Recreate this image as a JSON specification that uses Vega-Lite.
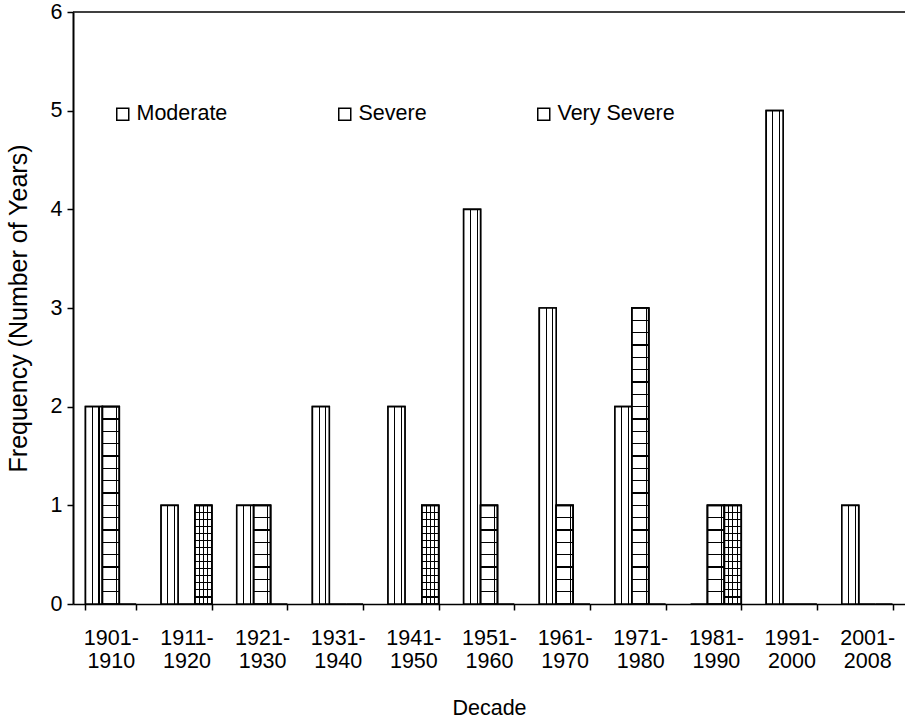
{
  "$schema": "https://vega.github.io/schema/vega-lite/v6.json",
  "width": 832,
  "height": 592,
  "autosize": "none",
  "padding": {"left": 73, "top": 12, "right": 0, "bottom": 115},
  "background": "white",
  "config": {"font": "Liberation Sans", "view": {"stroke": null}},
  "data": {"values": [
    {"decade": "1901-1910", "severity": "Moderate", "value": 2},
    {"decade": "1901-1910", "severity": "Severe", "value": 2},
    {"decade": "1901-1910", "severity": "Very Severe", "value": 0},
    {"decade": "1911-1920", "severity": "Moderate", "value": 1},
    {"decade": "1911-1920", "severity": "Severe", "value": 0},
    {"decade": "1911-1920", "severity": "Very Severe", "value": 1},
    {"decade": "1921-1930", "severity": "Moderate", "value": 1},
    {"decade": "1921-1930", "severity": "Severe", "value": 1},
    {"decade": "1921-1930", "severity": "Very Severe", "value": 0},
    {"decade": "1931-1940", "severity": "Moderate", "value": 2},
    {"decade": "1931-1940", "severity": "Severe", "value": 0},
    {"decade": "1931-1940", "severity": "Very Severe", "value": 0},
    {"decade": "1941-1950", "severity": "Moderate", "value": 2},
    {"decade": "1941-1950", "severity": "Severe", "value": 0},
    {"decade": "1941-1950", "severity": "Very Severe", "value": 1},
    {"decade": "1951-1960", "severity": "Moderate", "value": 4},
    {"decade": "1951-1960", "severity": "Severe", "value": 1},
    {"decade": "1951-1960", "severity": "Very Severe", "value": 0},
    {"decade": "1961-1970", "severity": "Moderate", "value": 3},
    {"decade": "1961-1970", "severity": "Severe", "value": 1},
    {"decade": "1961-1970", "severity": "Very Severe", "value": 0},
    {"decade": "1971-1980", "severity": "Moderate", "value": 2},
    {"decade": "1971-1980", "severity": "Severe", "value": 3},
    {"decade": "1971-1980", "severity": "Very Severe", "value": 0},
    {"decade": "1981-1990", "severity": "Moderate", "value": 0},
    {"decade": "1981-1990", "severity": "Severe", "value": 1},
    {"decade": "1981-1990", "severity": "Very Severe", "value": 1},
    {"decade": "1991-2000", "severity": "Moderate", "value": 5},
    {"decade": "1991-2000", "severity": "Severe", "value": 0},
    {"decade": "1991-2000", "severity": "Very Severe", "value": 0},
    {"decade": "2001-2008", "severity": "Moderate", "value": 1},
    {"decade": "2001-2008", "severity": "Severe", "value": 0},
    {"decade": "2001-2008", "severity": "Very Severe", "value": 0}
  ]},
  "layer": [
    {
      "encoding": {
        "x": {
          "field": "decade", "type": "nominal", "sort": null,
          "scale": {"paddingInner": 0.33, "paddingOuter": 0.165},
          "axis": {
            "title": "Decade", "labelAngle": 0,
            "labelExpr": "datum.label ? [split(datum.label,'-')[0] + '-', split(datum.label,'-')[1]] : ''",
            "tickBand": "extent", "tickSize": 6, "tickColor": "black", "tickWidth": 1.5,
            "domainColor": "black", "domainWidth": 1.5,
            "labelFontSize": 21.5, "labelLineHeight": 23, "labelPadding": 17, "labelColor": "black",
            "titleFontSize": 21.5, "titleFontWeight": "normal", "titlePadding": 26, "titleColor": "black"
          }
        },
        "xOffset": {"field": "severity", "type": "nominal", "scale": {"domain": ["Moderate", "Severe", "Very Severe"], "paddingInner": 0, "paddingOuter": 0}},
        "y": {
          "field": "value", "type": "quantitative",
          "scale": {"domain": [0, 6], "nice": false},
          "axis": {
            "title": "Frequency (Number of Years)", "values": [0, 1, 2, 3, 4, 5, 6], "format": "d", "grid": false,
            "tickSize": 6, "tickColor": "black", "tickWidth": 1.5,
            "domainColor": "black", "domainWidth": 2,
            "labelFontSize": 21.5, "labelPadding": 5, "labelColor": "black",
            "titleFontSize": 25, "titleFontWeight": "normal", "titlePadding": 19, "titleColor": "black"
          }
        }
      },
      "layer": [
        {
          "mark": {"type": "bar", "stroke": "black", "strokeWidth": 1.6},
          "encoding": {
            "fill": {
              "field": "severity", "type": "nominal",
              "scale": {"domain": ["Moderate", "Severe", "Very Severe"], "range": ["white", "white", "white"]},
              "legend": {
                "orient": "none", "legendX": 39, "legendY": 91, "direction": "horizontal", "title": null,
                "symbolType": "square", "symbolSize": 144, "symbolStrokeColor": "black", "symbolStrokeWidth": 1.5,
                "labelFontSize": 21.5, "labelOffset": 3, "labelColor": "black", "columnPadding": 106
              }
            }
          }
        },
        {
          "transform": [{"filter": "datum.severity == 'Moderate' && datum.value > 0"}],
          "mark": {"type": "bar", "stroke": "black", "strokeWidth": 1.6,
            "fill": {"gradient": "linear", "x1": 0, "y1": 0, "x2": 1, "y2": 0, "stops": [
              {"offset": 0, "color": "white"}, {"offset": 0.37, "color": "white"},
              {"offset": 0.37, "color": "black"}, {"offset": 0.43, "color": "black"},
              {"offset": 0.43, "color": "white"}, {"offset": 0.77, "color": "white"},
              {"offset": 0.77, "color": "black"}, {"offset": 0.83, "color": "black"},
              {"offset": 0.83, "color": "white"}, {"offset": 1, "color": "white"}
            ]}}
        },
        {
          "transform": [{"filter": "datum.severity == 'Severe' && datum.value > 0"}],
          "mark": {"type": "bar", "stroke": "black", "strokeWidth": 1.6,
            "fill": {"gradient": "linear", "x1": 0, "y1": 0, "x2": 1, "y2": 0, "stops": [
              {"offset": 0, "color": "white"}, {"offset": 0.81, "color": "white"},
              {"offset": 0.81, "color": "black"}, {"offset": 0.87, "color": "black"},
              {"offset": 0.87, "color": "white"}, {"offset": 1, "color": "white"}
            ]}}
        },
        {
          "transform": [{"filter": "datum.severity == 'Severe' && datum.value == 1"}],
          "mark": {"type": "bar", "stroke": "black", "strokeWidth": 1.6,
            "fill": {"gradient": "linear", "x1": 0, "y1": 0, "x2": 0, "y2": 1, "stops": [
              {"offset": 0, "color": "rgba(0,0,0,0)"},
              {"offset": 0.117, "color": "rgba(0,0,0,0)"}, {"offset": 0.117, "color": "black"}, {"offset": 0.133, "color": "black"}, {"offset": 0.133, "color": "rgba(0,0,0,0)"},
              {"offset": 0.242, "color": "rgba(0,0,0,0)"}, {"offset": 0.242, "color": "black"}, {"offset": 0.258, "color": "black"}, {"offset": 0.258, "color": "rgba(0,0,0,0)"},
              {"offset": 0.367, "color": "rgba(0,0,0,0)"}, {"offset": 0.367, "color": "black"}, {"offset": 0.383, "color": "black"}, {"offset": 0.383, "color": "rgba(0,0,0,0)"},
              {"offset": 0.492, "color": "rgba(0,0,0,0)"}, {"offset": 0.492, "color": "black"}, {"offset": 0.508, "color": "black"}, {"offset": 0.508, "color": "rgba(0,0,0,0)"},
              {"offset": 0.617, "color": "rgba(0,0,0,0)"}, {"offset": 0.617, "color": "black"}, {"offset": 0.633, "color": "black"}, {"offset": 0.633, "color": "rgba(0,0,0,0)"},
              {"offset": 0.742, "color": "rgba(0,0,0,0)"}, {"offset": 0.742, "color": "black"}, {"offset": 0.758, "color": "black"}, {"offset": 0.758, "color": "rgba(0,0,0,0)"},
              {"offset": 0.867, "color": "rgba(0,0,0,0)"}, {"offset": 0.867, "color": "black"}, {"offset": 0.883, "color": "black"}, {"offset": 0.883, "color": "rgba(0,0,0,0)"},
              {"offset": 1, "color": "rgba(0,0,0,0)"}
            ]}}
        },
        {
          "transform": [{"filter": "datum.severity == 'Severe' && datum.value == 2"}],
          "mark": {"type": "bar", "stroke": "black", "strokeWidth": 1.6,
            "fill": {"gradient": "linear", "x1": 0, "y1": 0, "x2": 0, "y2": 1, "stops": [
              {"offset": 0, "color": "rgba(0,0,0,0)"},
              {"offset": 0.0585, "color": "rgba(0,0,0,0)"}, {"offset": 0.0585, "color": "black"}, {"offset": 0.0665, "color": "black"}, {"offset": 0.0665, "color": "rgba(0,0,0,0)"},
              {"offset": 0.121, "color": "rgba(0,0,0,0)"}, {"offset": 0.121, "color": "black"}, {"offset": 0.129, "color": "black"}, {"offset": 0.129, "color": "rgba(0,0,0,0)"},
              {"offset": 0.1835, "color": "rgba(0,0,0,0)"}, {"offset": 0.1835, "color": "black"}, {"offset": 0.1915, "color": "black"}, {"offset": 0.1915, "color": "rgba(0,0,0,0)"},
              {"offset": 0.246, "color": "rgba(0,0,0,0)"}, {"offset": 0.246, "color": "black"}, {"offset": 0.254, "color": "black"}, {"offset": 0.254, "color": "rgba(0,0,0,0)"},
              {"offset": 0.3085, "color": "rgba(0,0,0,0)"}, {"offset": 0.3085, "color": "black"}, {"offset": 0.3165, "color": "black"}, {"offset": 0.3165, "color": "rgba(0,0,0,0)"},
              {"offset": 0.371, "color": "rgba(0,0,0,0)"}, {"offset": 0.371, "color": "black"}, {"offset": 0.379, "color": "black"}, {"offset": 0.379, "color": "rgba(0,0,0,0)"},
              {"offset": 0.4335, "color": "rgba(0,0,0,0)"}, {"offset": 0.4335, "color": "black"}, {"offset": 0.4415, "color": "black"}, {"offset": 0.4415, "color": "rgba(0,0,0,0)"},
              {"offset": 0.496, "color": "rgba(0,0,0,0)"}, {"offset": 0.496, "color": "black"}, {"offset": 0.504, "color": "black"}, {"offset": 0.504, "color": "rgba(0,0,0,0)"},
              {"offset": 0.5585, "color": "rgba(0,0,0,0)"}, {"offset": 0.5585, "color": "black"}, {"offset": 0.5665, "color": "black"}, {"offset": 0.5665, "color": "rgba(0,0,0,0)"},
              {"offset": 0.621, "color": "rgba(0,0,0,0)"}, {"offset": 0.621, "color": "black"}, {"offset": 0.629, "color": "black"}, {"offset": 0.629, "color": "rgba(0,0,0,0)"},
              {"offset": 0.6835, "color": "rgba(0,0,0,0)"}, {"offset": 0.6835, "color": "black"}, {"offset": 0.6915, "color": "black"}, {"offset": 0.6915, "color": "rgba(0,0,0,0)"},
              {"offset": 0.746, "color": "rgba(0,0,0,0)"}, {"offset": 0.746, "color": "black"}, {"offset": 0.754, "color": "black"}, {"offset": 0.754, "color": "rgba(0,0,0,0)"},
              {"offset": 0.8085, "color": "rgba(0,0,0,0)"}, {"offset": 0.8085, "color": "black"}, {"offset": 0.8165, "color": "black"}, {"offset": 0.8165, "color": "rgba(0,0,0,0)"},
              {"offset": 0.871, "color": "rgba(0,0,0,0)"}, {"offset": 0.871, "color": "black"}, {"offset": 0.879, "color": "black"}, {"offset": 0.879, "color": "rgba(0,0,0,0)"},
              {"offset": 0.9335, "color": "rgba(0,0,0,0)"}, {"offset": 0.9335, "color": "black"}, {"offset": 0.9415, "color": "black"}, {"offset": 0.9415, "color": "rgba(0,0,0,0)"},
              {"offset": 1, "color": "rgba(0,0,0,0)"}
            ]}}
        },
        {
          "transform": [{"filter": "datum.severity == 'Severe' && datum.value == 3"}],
          "mark": {"type": "bar", "stroke": "black", "strokeWidth": 1.6,
            "fill": {"gradient": "linear", "x1": 0, "y1": 0, "x2": 0, "y2": 1, "stops": [
              {"offset": 0, "color": "rgba(0,0,0,0)"},
              {"offset": 0.0390, "color": "rgba(0,0,0,0)"}, {"offset": 0.0390, "color": "black"}, {"offset": 0.0444, "color": "black"}, {"offset": 0.0444, "color": "rgba(0,0,0,0)"},
              {"offset": 0.0806, "color": "rgba(0,0,0,0)"}, {"offset": 0.0806, "color": "black"}, {"offset": 0.0860, "color": "black"}, {"offset": 0.0860, "color": "rgba(0,0,0,0)"},
              {"offset": 0.1223, "color": "rgba(0,0,0,0)"}, {"offset": 0.1223, "color": "black"}, {"offset": 0.1277, "color": "black"}, {"offset": 0.1277, "color": "rgba(0,0,0,0)"},
              {"offset": 0.1640, "color": "rgba(0,0,0,0)"}, {"offset": 0.1640, "color": "black"}, {"offset": 0.1694, "color": "black"}, {"offset": 0.1694, "color": "rgba(0,0,0,0)"},
              {"offset": 0.2056, "color": "rgba(0,0,0,0)"}, {"offset": 0.2056, "color": "black"}, {"offset": 0.2110, "color": "black"}, {"offset": 0.2110, "color": "rgba(0,0,0,0)"},
              {"offset": 0.2473, "color": "rgba(0,0,0,0)"}, {"offset": 0.2473, "color": "black"}, {"offset": 0.2527, "color": "black"}, {"offset": 0.2527, "color": "rgba(0,0,0,0)"},
              {"offset": 0.2890, "color": "rgba(0,0,0,0)"}, {"offset": 0.2890, "color": "black"}, {"offset": 0.2944, "color": "black"}, {"offset": 0.2944, "color": "rgba(0,0,0,0)"},
              {"offset": 0.3306, "color": "rgba(0,0,0,0)"}, {"offset": 0.3306, "color": "black"}, {"offset": 0.3360, "color": "black"}, {"offset": 0.3360, "color": "rgba(0,0,0,0)"},
              {"offset": 0.3723, "color": "rgba(0,0,0,0)"}, {"offset": 0.3723, "color": "black"}, {"offset": 0.3777, "color": "black"}, {"offset": 0.3777, "color": "rgba(0,0,0,0)"},
              {"offset": 0.4140, "color": "rgba(0,0,0,0)"}, {"offset": 0.4140, "color": "black"}, {"offset": 0.4194, "color": "black"}, {"offset": 0.4194, "color": "rgba(0,0,0,0)"},
              {"offset": 0.4556, "color": "rgba(0,0,0,0)"}, {"offset": 0.4556, "color": "black"}, {"offset": 0.4610, "color": "black"}, {"offset": 0.4610, "color": "rgba(0,0,0,0)"},
              {"offset": 0.4973, "color": "rgba(0,0,0,0)"}, {"offset": 0.4973, "color": "black"}, {"offset": 0.5027, "color": "black"}, {"offset": 0.5027, "color": "rgba(0,0,0,0)"},
              {"offset": 0.5390, "color": "rgba(0,0,0,0)"}, {"offset": 0.5390, "color": "black"}, {"offset": 0.5444, "color": "black"}, {"offset": 0.5444, "color": "rgba(0,0,0,0)"},
              {"offset": 0.5806, "color": "rgba(0,0,0,0)"}, {"offset": 0.5806, "color": "black"}, {"offset": 0.5860, "color": "black"}, {"offset": 0.5860, "color": "rgba(0,0,0,0)"},
              {"offset": 0.6223, "color": "rgba(0,0,0,0)"}, {"offset": 0.6223, "color": "black"}, {"offset": 0.6277, "color": "black"}, {"offset": 0.6277, "color": "rgba(0,0,0,0)"},
              {"offset": 0.6640, "color": "rgba(0,0,0,0)"}, {"offset": 0.6640, "color": "black"}, {"offset": 0.6694, "color": "black"}, {"offset": 0.6694, "color": "rgba(0,0,0,0)"},
              {"offset": 0.7056, "color": "rgba(0,0,0,0)"}, {"offset": 0.7056, "color": "black"}, {"offset": 0.7110, "color": "black"}, {"offset": 0.7110, "color": "rgba(0,0,0,0)"},
              {"offset": 0.7473, "color": "rgba(0,0,0,0)"}, {"offset": 0.7473, "color": "black"}, {"offset": 0.7527, "color": "black"}, {"offset": 0.7527, "color": "rgba(0,0,0,0)"},
              {"offset": 0.7890, "color": "rgba(0,0,0,0)"}, {"offset": 0.7890, "color": "black"}, {"offset": 0.7944, "color": "black"}, {"offset": 0.7944, "color": "rgba(0,0,0,0)"},
              {"offset": 0.8306, "color": "rgba(0,0,0,0)"}, {"offset": 0.8306, "color": "black"}, {"offset": 0.8360, "color": "black"}, {"offset": 0.8360, "color": "rgba(0,0,0,0)"},
              {"offset": 0.8723, "color": "rgba(0,0,0,0)"}, {"offset": 0.8723, "color": "black"}, {"offset": 0.8777, "color": "black"}, {"offset": 0.8777, "color": "rgba(0,0,0,0)"},
              {"offset": 0.9140, "color": "rgba(0,0,0,0)"}, {"offset": 0.9140, "color": "black"}, {"offset": 0.9194, "color": "black"}, {"offset": 0.9194, "color": "rgba(0,0,0,0)"},
              {"offset": 0.9556, "color": "rgba(0,0,0,0)"}, {"offset": 0.9556, "color": "black"}, {"offset": 0.9610, "color": "black"}, {"offset": 0.9610, "color": "rgba(0,0,0,0)"},
              {"offset": 1, "color": "rgba(0,0,0,0)"}
            ]}}
        },
        {
          "transform": [{"filter": "datum.severity == 'Very Severe' && datum.value > 0"}],
          "mark": {"type": "bar", "stroke": "black", "strokeWidth": 1.6,
            "fill": {"gradient": "linear", "x1": 0, "y1": 0, "x2": 1, "y2": 0, "stops": [
              {"offset": 0, "color": "white"}, {"offset": 0.22, "color": "white"},
              {"offset": 0.22, "color": "black"}, {"offset": 0.28, "color": "black"},
              {"offset": 0.28, "color": "white"}, {"offset": 0.47, "color": "white"},
              {"offset": 0.47, "color": "black"}, {"offset": 0.53, "color": "black"},
              {"offset": 0.53, "color": "white"}, {"offset": 0.72, "color": "white"},
              {"offset": 0.72, "color": "black"}, {"offset": 0.78, "color": "black"},
              {"offset": 0.78, "color": "white"}, {"offset": 1, "color": "white"}
            ]}}
        },
        {
          "transform": [{"filter": "datum.severity == 'Very Severe' && datum.value == 1"}],
          "mark": {"type": "bar", "stroke": "black", "strokeWidth": 1.6,
            "fill": {"gradient": "linear", "x1": 0, "y1": 0, "x2": 0, "y2": 1, "stops": [
              {"offset": 0, "color": "rgba(0,0,0,0)"},
              {"offset": 0.0654, "color": "rgba(0,0,0,0)"}, {"offset": 0.0654, "color": "black"}, {"offset": 0.0774, "color": "black"}, {"offset": 0.0774, "color": "rgba(0,0,0,0)"},
              {"offset": 0.1369, "color": "rgba(0,0,0,0)"}, {"offset": 0.1369, "color": "black"}, {"offset": 0.1489, "color": "black"}, {"offset": 0.1489, "color": "rgba(0,0,0,0)"},
              {"offset": 0.2083, "color": "rgba(0,0,0,0)"}, {"offset": 0.2083, "color": "black"}, {"offset": 0.2203, "color": "black"}, {"offset": 0.2203, "color": "rgba(0,0,0,0)"},
              {"offset": 0.2797, "color": "rgba(0,0,0,0)"}, {"offset": 0.2797, "color": "black"}, {"offset": 0.2917, "color": "black"}, {"offset": 0.2917, "color": "rgba(0,0,0,0)"},
              {"offset": 0.3511, "color": "rgba(0,0,0,0)"}, {"offset": 0.3511, "color": "black"}, {"offset": 0.3631, "color": "black"}, {"offset": 0.3631, "color": "rgba(0,0,0,0)"},
              {"offset": 0.4226, "color": "rgba(0,0,0,0)"}, {"offset": 0.4226, "color": "black"}, {"offset": 0.4346, "color": "black"}, {"offset": 0.4346, "color": "rgba(0,0,0,0)"},
              {"offset": 0.4940, "color": "rgba(0,0,0,0)"}, {"offset": 0.4940, "color": "black"}, {"offset": 0.5060, "color": "black"}, {"offset": 0.5060, "color": "rgba(0,0,0,0)"},
              {"offset": 0.5654, "color": "rgba(0,0,0,0)"}, {"offset": 0.5654, "color": "black"}, {"offset": 0.5774, "color": "black"}, {"offset": 0.5774, "color": "rgba(0,0,0,0)"},
              {"offset": 0.6369, "color": "rgba(0,0,0,0)"}, {"offset": 0.6369, "color": "black"}, {"offset": 0.6489, "color": "black"}, {"offset": 0.6489, "color": "rgba(0,0,0,0)"},
              {"offset": 0.7083, "color": "rgba(0,0,0,0)"}, {"offset": 0.7083, "color": "black"}, {"offset": 0.7203, "color": "black"}, {"offset": 0.7203, "color": "rgba(0,0,0,0)"},
              {"offset": 0.7797, "color": "rgba(0,0,0,0)"}, {"offset": 0.7797, "color": "black"}, {"offset": 0.7917, "color": "black"}, {"offset": 0.7917, "color": "rgba(0,0,0,0)"},
              {"offset": 0.8511, "color": "rgba(0,0,0,0)"}, {"offset": 0.8511, "color": "black"}, {"offset": 0.8631, "color": "black"}, {"offset": 0.8631, "color": "rgba(0,0,0,0)"},
              {"offset": 0.9226, "color": "rgba(0,0,0,0)"}, {"offset": 0.9226, "color": "black"}, {"offset": 0.9346, "color": "black"}, {"offset": 0.9346, "color": "rgba(0,0,0,0)"},
              {"offset": 1, "color": "rgba(0,0,0,0)"}
            ]}}
        }
      ]
    },
    {
      "data": {"values": [{}]},
      "mark": {"type": "rule", "color": "black", "strokeWidth": 1.5},
      "encoding": {"y": {"datum": 6, "type": "quantitative"}}
    }
  ]
}
